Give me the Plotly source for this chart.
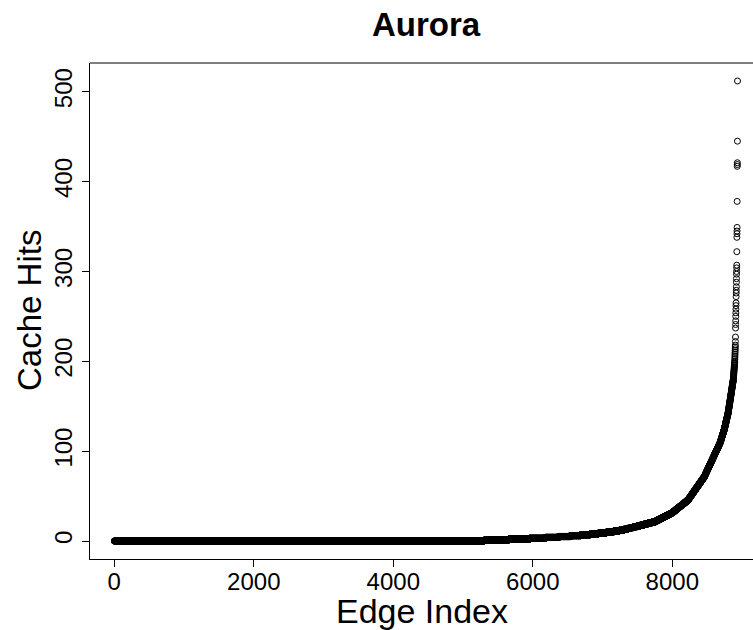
import numpy as np
import plotly.graph_objects as go

# Frequency table of cache hits per edge (sorted ascending):
# each integer value from level_lo..level_hi occurs edges_per_level times
level_lo = [0, 1, 2, 3, 4, 5, 6, 7, 8, 9, 10, 11, 12, 13, 22, 32, 46, 72, 110, 125, 143, 180]
level_hi = [0, 1, 2, 3, 4, 5, 6, 7, 8, 9, 10, 11, 12, 21, 31, 45, 71, 109, 124, 142, 179, 200]
edges_per_level = [5300, 350, 300, 230, 190, 170, 150, 135, 120, 110, 100, 80, 65,
                   50, 25, 16, 9, 6, 4, 3, 2, 1]

# Individual high-hit edges (the sparse tail)
tail_hits = [202, 204, 206, 208, 210, 212, 214, 216, 218, 222, 227, 237, 241, 245,
             250, 254, 258, 262, 265, 272, 276, 279, 283, 288, 292, 297, 300, 304,
             307, 322, 338, 342, 345, 349, 378, 417, 419, 421, 445, 512]

x_ticks = [0, 2000, 4000, 6000, 8000]
y_ticks = [0, 100, 200, 300, 400, 500]

hits = []
for lo, hi, n in zip(level_lo, level_hi, edges_per_level):
    for v in range(lo, hi + 1):
        hits.extend([v] * n)
hits.extend(tail_hits)
hits = np.array(hits)
idx = np.arange(1, len(hits) + 1)

FONT = "Liberation Sans, Arial, Helvetica, sans-serif"

fig = go.Figure()
fig.add_trace(go.Scatter(
    x=idx, y=hits, mode="markers",
    marker=dict(symbol="circle-open", size=6, color="black", line=dict(width=1, color="black")),
    hoverinfo="skip", showlegend=False,
))

fig.update_layout(
    width=753, height=630,
    margin=dict(l=90, r=0, t=63, b=71, autoexpand=False),
    paper_bgcolor="white", plot_bgcolor="white",
    font=dict(family=FONT, color="black"),
    title=dict(text="<b>Aurora</b>", font=dict(size=33, family=FONT, color="black"),
               x=426 / 753, xanchor="center", xref="container",
               y=1 - 24 / 630, yanchor="middle", yref="container"),
    showlegend=False,
)

fig.update_xaxes(
    range=[-348, 9157], tickvals=x_ticks, ticktext=[str(t) for t in x_ticks],
    ticks="outside", ticklen=7, tickcolor="black", tickwidth=1,
    showline=True, linecolor="black", linewidth=1,
    showgrid=False, zeroline=False, automargin=False,
    tickfont=dict(size=24, family=FONT), ticklabelstandoff=-6,
)
fig.update_yaxes(
    range=[-20, 532], tickvals=y_ticks, ticktext=[str(t) for t in y_ticks],
    ticks="outside", ticklen=7, tickcolor="black", tickwidth=1,
    showline=True, linecolor="black", linewidth=1,
    showgrid=False, zeroline=False, tickangle=-90, automargin=False,
    tickfont=dict(size=24, family=FONT),
)

# axis titles
fig.add_annotation(text="Edge Index", xref="paper", yref="paper", x=0.5, y=0,
                   xanchor="center", yanchor="middle", yshift=-52, showarrow=False,
                   font=dict(size=34, family=FONT, color="black"))
fig.add_annotation(text="Cache Hits", xref="paper", yref="paper", x=0, y=0.5,
                   xanchor="center", yanchor="middle", xshift=-61, textangle=-90,
                   showarrow=False, font=dict(size=33, family=FONT, color="black"))

# top border of the plot box
fig.add_shape(type="line", xref="paper", yref="paper", x0=0, x1=1, y0=1, y1=1,
              line=dict(color="black", width=1))

fig.write_html("out.html", config={"displayModeBar": False},
               post_script="document.body.style.margin='0';document.body.style.overflow='hidden';")
